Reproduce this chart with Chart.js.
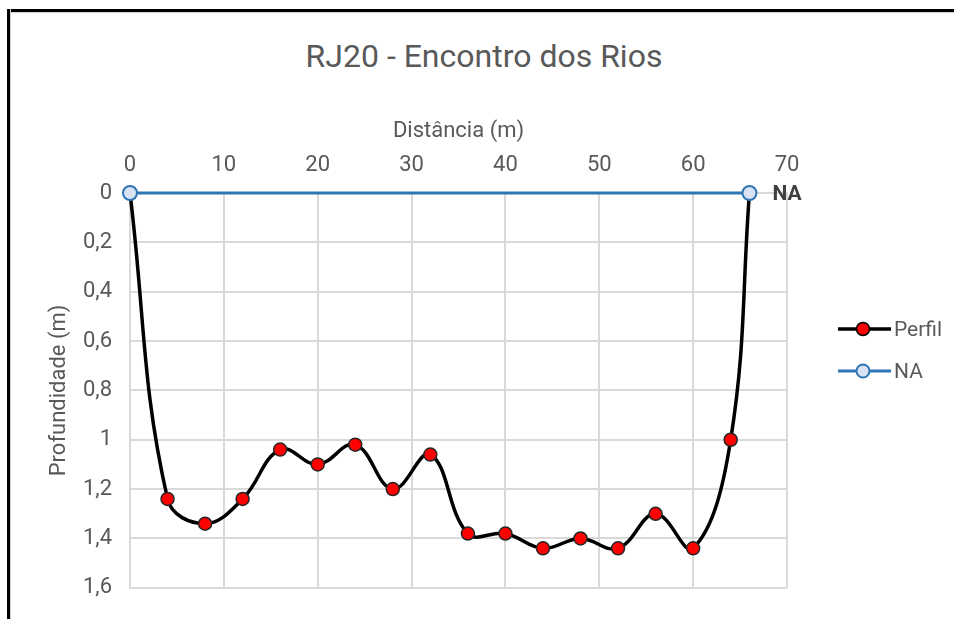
<!DOCTYPE html>
<html>
<head>
<meta charset="utf-8">
<title>RJ20 - Encontro dos Rios</title>
<script src="https://cdn.jsdelivr.net/npm/chart.js@4.4.1/dist/chart.umd.min.js"></script>
<style>
    body { margin: 0; background: #fff; overflow: hidden; }
    #wrap { position: relative; width: 954px; height: 619px; overflow: hidden; font-family: Roboto, 'DejaVu Sans Condensed', sans-serif; color: #595959; }
    .edge { position: absolute; background: #000; }
    #edgeTop { left: 7px; top: 9px; width: 947px; height: 3px; box-shadow: 0 1px 0 #d0d0d0; }
    #edgeLeft { left: 7px; top: 9px; width: 3px; height: 610px; box-shadow: 1px 0 0 #d0d0d0; }
    #chartTitle { position: absolute; left: 0; top: 37px; width: 968px; text-align: center; font-size: 32px; }
    #chart { position: absolute; left: 0; top: 0; }
    .legend-row { position: absolute; left: 838px; height: 30px; display: flex; align-items: center; font-size: 21px; }
    .legend-row svg { margin-right: 2px; }
</style>
</head>
<body>
<div id="wrap">
    <div class="edge" id="edgeTop"></div>
    <div class="edge" id="edgeLeft"></div>
    <div id="chartTitle">RJ20 - Encontro dos Rios</div>
    <canvas id="chart" width="954" height="619"></canvas>
    <div class="legend-row" style="top: 314px;">
        <svg width="54" height="16"><line x1="0" y1="8" x2="53" y2="8" stroke="#000" stroke-width="3.5"/><circle cx="25" cy="8" r="6.5" fill="#ff0000" stroke="#000" stroke-width="1.5"/></svg>Perfil
    </div>
    <div class="legend-row" style="top: 356px;">
        <svg width="54" height="16"><line x1="0" y1="8" x2="53" y2="8" stroke="#2e75b6" stroke-width="3"/><circle cx="25" cy="8" r="6.5" fill="#dae3f3" stroke="#2e75b6" stroke-width="2"/></svg>NA
    </div>
</div>
<script>
// Perfil do leito (distancia x profundidade)
const distancias = [0, 4, 8, 12, 16, 20, 24, 28, 32, 36, 40, 44, 48, 52, 56, 60, 64, 66];
const profundidades = [0, 1.24, 1.34, 1.24, 1.04, 1.10, 1.02, 1.20, 1.06, 1.38, 1.38, 1.44, 1.40, 1.44, 1.30, 1.44, 1.00, 0];

// Nivel d'agua
const naDistancias = [0, 66];
const naProfundidades = [0, 0];
const naLabel = 'NA';

const fontFamily = "Roboto, 'DejaVu Sans Condensed', sans-serif";
Chart.defaults.font.family = fontFamily;
Chart.defaults.font.size = 22;
Chart.defaults.color = '#595959';

// writes "NA" next to the last point of the water level line
const naLabelPlugin = {
    id: 'naLabel',
    afterDatasetsDraw(chart) {
        const meta = chart.getDatasetMeta(1);
        const last = meta.data[meta.data.length - 1];
        const ctx = chart.ctx;
        ctx.save();
        ctx.font = 'bold 21px ' + fontFamily;
        ctx.fillStyle = '#404040';
        ctx.textBaseline = 'middle';
        ctx.fillText(naLabel, last.x + 23, last.y + 2);
        ctx.restore();
    }
};

function fmtDepth(v) {
    return (Math.round(v * 10) / 10).toString().replace('.', ',');
}

const ctx = document.getElementById('chart').getContext('2d');
new Chart(ctx, {
    type: 'line',
    data: {
        datasets: [{
            label: 'Perfil',
            data: distancias.map((d, i) => ({ x: d, y: profundidades[i] })),
            borderColor: '#000',
            borderWidth: 3.5,
            tension: 0.4,
            pointRadius: 6.5,
            pointBackgroundColor: '#ff0000',
            pointBorderColor: '#262626',
            pointBorderWidth: 1.5,
            clip: false,
            order: 1
        }, {
            label: 'NA',
            data: naDistancias.map((d, i) => ({ x: d, y: naProfundidades[i] })),
            borderColor: '#2e75b6',
            borderWidth: 3,
            pointRadius: 7,
            pointBackgroundColor: '#dae3f3',
            pointBorderColor: '#2e75b6',
            pointBorderWidth: 2,
            clip: false,
            order: 0
        }]
    },
    options: {
        responsive: false,
        animation: false,
        layout: { padding: { top: 118, left: 46, right: 167, bottom: 24 } },
        plugins: {
            legend: { display: false },
            tooltip: { enabled: false }
        },
        scales: {
            x: {
                type: 'linear',
                position: 'top',
                min: 0,
                max: 70,
                ticks: { stepSize: 10, padding: 14 },
                grid: { color: '#d9d9d9', lineWidth: 2, drawTicks: false },
                border: { color: '#d9d9d9', width: 2 },
                title: { display: true, text: 'Distância (m)', padding: 0 },
                afterFit(scale) { scale.height = 75; }
            },
            y: {
                reverse: true,
                min: 0,
                max: 1.6,
                ticks: { stepSize: 0.2, padding: 18, callback: v => fmtDepth(v) },
                grid: { color: '#d9d9d9', lineWidth: 2, drawTicks: false },
                border: { color: '#d9d9d9', width: 2 },
                title: { display: true, text: 'Profundidade (m)', padding: 0 },
                afterFit(scale) { scale.width = 84; }
            }
        }
    },
    plugins: [naLabelPlugin]
});
</script>
</body>
</html>
